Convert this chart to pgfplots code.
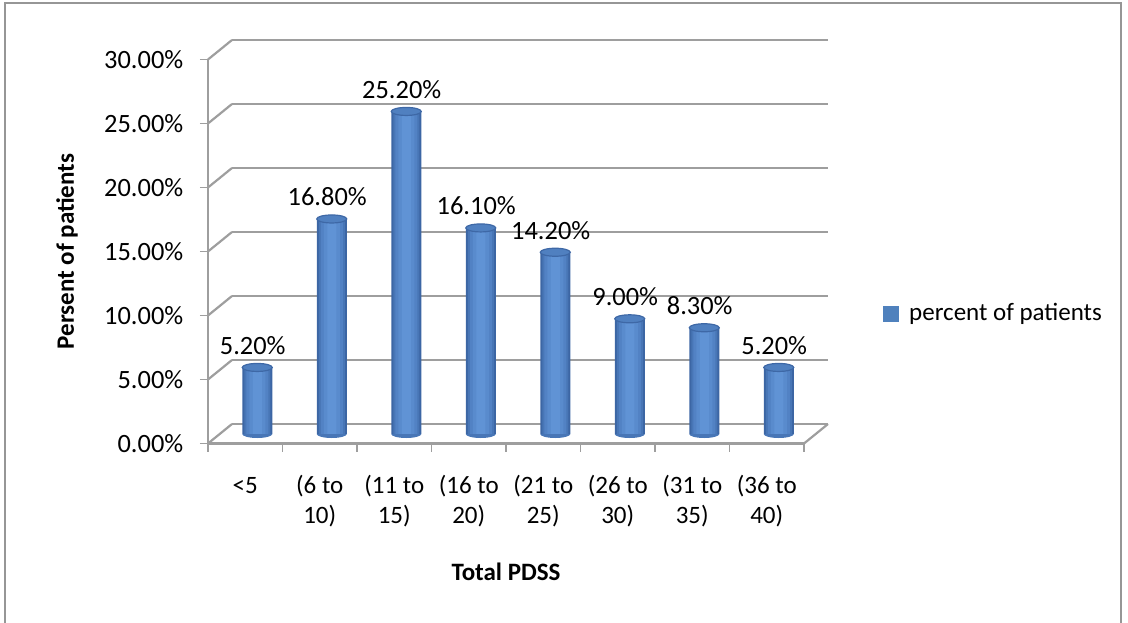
\documentclass[border=0pt]{standalone}
\usepackage{pgfplots}
\usepackage{pgfplotstable}
\pgfplotsset{compat=1.18}
\usepackage{fontspec}
\setmainfont{Carlito}

\definecolor{gridc}{RGB}{158,158,158}
\definecolor{barA}{RGB}{60,102,164}
\definecolor{barB}{RGB}{72,118,182}
\definecolor{barC}{RGB}{82,130,196}
\definecolor{barD}{RGB}{89,139,205}
\definecolor{barE}{RGB}{96,147,213}
\definecolor{capc}{RGB}{80,128,192}
\definecolor{capedge}{RGB}{62,104,166}
\definecolor{legc}{RGB}{79,129,189}
\definecolor{framec}{RGB}{150,150,150}

\newcommand\numfont{\fontsize{13.2}{15}\selectfont}

% flat ellipse for the cylinder tops
\pgfdeclareplotmark{cyltop}{%
  \pgfpathellipse{\pgfpointorigin}{\pgfqpoint{7.5pt}{0pt}}{\pgfqpoint{0pt}{2pt}}%
  \pgfusepathqfillstroke}
% lower half of the ellipse for the rounded cylinder bases
\pgfdeclareplotmark{cylbase}{%
  \pgfpathmoveto{\pgfqpoint{-7.5pt}{0pt}}%
  \pgfpatharc{180}{360}{7.5pt and 2pt}%
  \pgfpathclose
  \pgfusepathqfill}

% share of patients per Total PDSS band (x = band centre)
\pgfplotstableread{
x   y    z
0.5 5.2  0
1.5 16.8 0
2.5 25.2 0
3.5 16.1 0
4.5 14.2 0
5.5 9.0  0
6.5 8.3  0
7.5 5.2  0
}\pdss

\pgfplotsset{
  base/.style={
    scale only axis, width=298pt, height=192pt,
    xmin=0, xmax=8, ymin=0, ymax=30,
    at={(0,0)}, anchor=south west,
    /pgf/number format/assume math mode=true,
  },
  cyl/.style={ybar, bar width=#1, bar shift=0pt, draw=none},
}

\begin{document}
\fontsize{12.5}{15}\selectfont
\begin{tikzpicture}
\path[use as bounding box] (-104pt,-89.25pt) rectangle (460pt,221.75pt);
\draw[framec, line width=1pt] (-101.5pt,-95pt) -- (-101.5pt,220.25pt) -- (456.5pt,220.25pt) -- (456.5pt,-95pt);

% front plane: axes, ticks, walls and floor
\begin{axis}[base,
  axis x line*=bottom, axis y line*=left,
  axis line style={gridc, line width=1.1pt, -},
  tick align=outside, major tick length=4pt,
  tick style={gridc, line width=0.8pt},
  ytick={0,5,...,30},
  yticklabel={\pgfmathprintnumber[fixed,fixed zerofill,precision=2]{\tick}\%},
  yticklabel style={xshift=-4pt, font=\numfont},
  xtick={0,...,8},
  x tick label as interval,
  typeset ticklabels with strut,
  xticklabels={{<5},{(6 to\\10)},{(11 to\\15)},{(16 to\\20)},{(21 to\\25)},{(26 to\\30)},{(31 to\\35)},{(36 to\\40)}},
  xticklabel style={align=center, yshift=-6pt},
  xlabel={\bfseries Total PDSS},
  xlabel style={at={(axis description cs:0.5,-0.3346)}, anchor=center},
  ylabel={\bfseries Persent of patients},
  ylabel style={at={(axis description cs:-0.2366,0.5)}, anchor=center},
  clip=false,
  legend style={draw=none, fill=none, at={(axis description cs:1.1326,0.337)}, anchor=west,
    inner sep=0pt, nodes={inner sep=0pt},
    /tikz/every odd column/.append style={column sep=5pt}},
  legend image code/.code={\fill[legc] (0pt,-3.75pt) rectangle (7.5pt,3.75pt);},
]
\addlegendimage{legc}
\addlegendentry{percent of patients}
% back wall gridlines and the side-wall diagonals
\pgfplotsinvokeforeach{0,5,10,15,20,25,30}{
  \draw[gridc, line width=1.1pt] ([shift={(12pt,9.75pt)}]axis cs:0,#1) -- ([shift={(12pt,9.75pt)}]axis cs:8,#1);
  \draw[gridc, line width=1.1pt] (axis cs:0,#1) -- ([shift={(12pt,9.75pt)}]axis cs:0,#1);
}
\draw[gridc, line width=1.1pt] (axis cs:8,0) -- ([shift={(12pt,9.75pt)}]axis cs:8,0);
\end{axis}

% cylinders, half-way into the depth
\begin{axis}[base, at={(6pt,4.75pt)}, hide axis, clip=false]
\addplot[only marks, mark=cylbase, mark options={fill=barB}] table[x=x,y=z]{\pdss};
% nested bars of rising lightness give the round shading
\addplot[cyl=15pt, fill=barA] table[x=x,y=y]{\pdss};
\addplot[cyl=13pt, fill=barB] table[x=x,y=y]{\pdss};
\addplot[cyl=11pt, fill=barC] table[x=x,y=y]{\pdss};
\addplot[cyl=8pt,  fill=barD] table[x=x,y=y]{\pdss};
\addplot[cyl=4.5pt, fill=barE] table[x=x,y=y]{\pdss};
\addplot[only marks, mark=cyltop, mark options={fill=capc, draw=capedge, line width=0.6pt}] table[x=x,y=y]{\pdss};
\addplot[draw=none, mark=none, point meta=explicit,
  nodes near coords={\pgfmathprintnumber[fixed,fixed zerofill,precision=2]{\pgfplotspointmeta}\%},
  every node near coord/.append style={anchor=center, yshift=11pt, xshift=-2.25pt, text=black, font=\numfont}]
  table[x=x,y=y,meta=y]{\pdss};
\end{axis}
\end{tikzpicture}
\end{document}
